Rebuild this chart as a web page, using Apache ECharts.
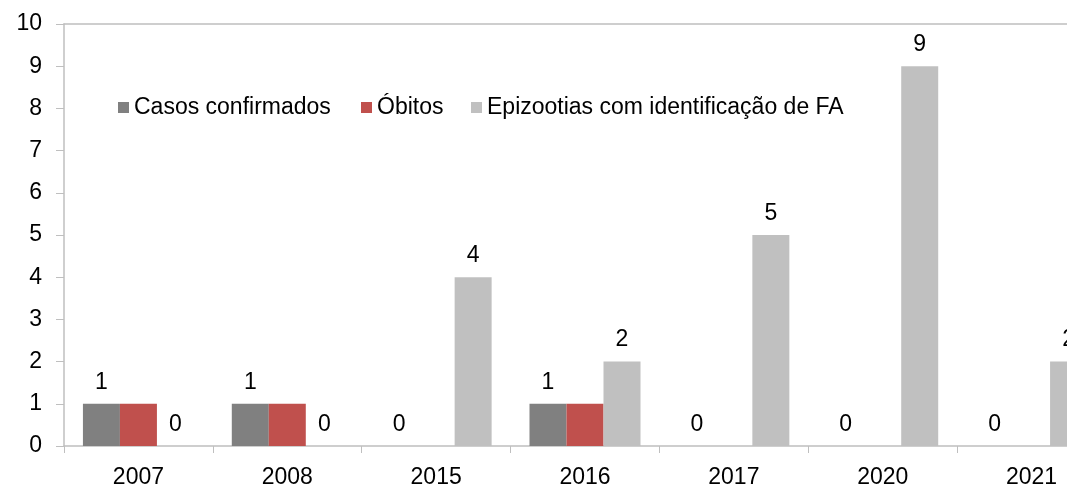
<!DOCTYPE html>
<html>
<head>
<meta charset="utf-8">
<script src="https://cdn.jsdelivr.net/npm/echarts@6/dist/echarts.min.js"></script>
<style>
  html, body { margin: 0; padding: 0; background: #fff; }
  #chart { width: 1067px; height: 489px; }
</style>
</head>
<body>
<div id="chart"></div>
<script>
var anos = ['2007', '2008', '2015', '2016', '2017', '2020', '2021']
var casosConfirmados = [1, 1, 0, 1, 0, 0, 0]
var obitos = [1, 1, 0, 1, 0, 0, 0]
var epizootias = [0, 0, 4, 2, 5, 9, 2]
var nomesSeries = ['Casos confirmados', 'Óbitos', 'Epizootias com identificação de FA']

var fonte = 'Liberation Sans, Arial, sans-serif'
var cinzaEixo = '#bfbfbf'

var chart = echarts.init(document.getElementById('chart'))

// rótulos só nos casos e epizootias
var rotulo = {
  show: true,
  position: 'top',
  distance: 10,
  color: '#000',
  fontSize: 23,
  fontFamily: fonte
}

// uma legenda por item para acertar o espaçamento do original
var legendaLeft = [113, 356, 466]
var legendas = nomesSeries.map(function (nome, i) {
  return {
    left: legendaLeft[i],
    top: 91,
    itemWidth: 11,
    itemHeight: 11,
    itemGap: 0,
    icon: 'rect',
    textStyle: { color: '#000', fontSize: 23, fontFamily: fonte },
    data: [nome]
  }
})

var option = {
  animation: false,
  color: ['#808080', '#c0504d', '#c0c0c0'],
  legend: legendas,
  grid: {
    left: 64,
    top: 24,
    width: 1042,
    height: 422,
    outerBoundsMode: 'none'
  },
  xAxis: [
    {
      type: 'category',
      data: anos,
      axisLine: { lineStyle: { color: cinzaEixo, width: 1.5 } },
      axisTick: { show: true, length: 7, lineStyle: { color: cinzaEixo } },
      axisLabel: { color: '#000', fontSize: 23, fontFamily: fonte, margin: 20 }
    },
    {
      type: 'category',
      position: 'top',
      data: anos,
      axisLine: { lineStyle: { color: cinzaEixo, width: 1.5 } },
      axisTick: { show: false },
      axisLabel: { show: false }
    }
  ],
  yAxis: {
    type: 'value',
    min: 0,
    max: 10,
    interval: 1,
    splitLine: { show: false },
    axisLine: { show: true, lineStyle: { color: cinzaEixo, width: 1.5 } },
    axisTick: { show: true, length: 8, lineStyle: { color: cinzaEixo } },
    axisLabel: { color: '#000', fontSize: 23, fontFamily: fonte, margin: 22 }
  },
  series: [
    {
      name: nomesSeries[0],
      type: 'bar',
      barWidth: 37,
      barGap: '0%',
      data: casosConfirmados,
      label: rotulo
    },
    {
      name: nomesSeries[1],
      type: 'bar',
      barWidth: 37,
      barGap: '0%',
      data: obitos
    },
    {
      name: nomesSeries[2],
      type: 'bar',
      barWidth: 37,
      barGap: '0%',
      data: epizootias,
      label: rotulo
    }
  ]
}

chart.setOption(option)
</script>
</body>
</html>
